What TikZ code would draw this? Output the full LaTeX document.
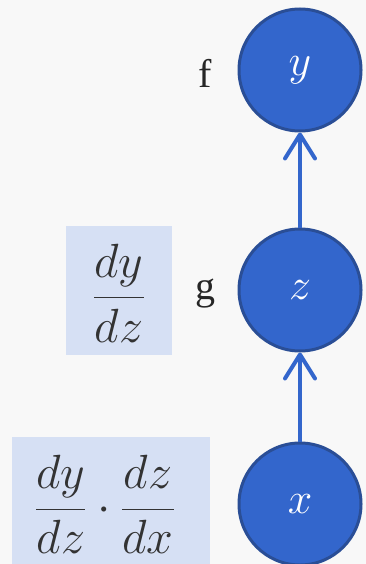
\RequirePackage{fix-cm}
\documentclass[tikz,border=0pt]{standalone}
\usepackage{amsmath}
\usepackage{fontspec}
\setmainfont{Liberation Serif}
\usetikzlibrary{arrows.meta, positioning}
\definecolor{nodefill}{RGB}{51,102,204}
\definecolor{nodeline}{RGB}{42,78,150}
\definecolor{gradbox}{RGB}{214,224,244}
\definecolor{canvas}{RGB}{248,248,248}

\begin{document}
\begin{tikzpicture}[
    x=1pt, y=-1pt,
    var/.style={circle, fill=nodefill, draw=nodeline, line width=3pt, minimum size=122pt, inner sep=0pt, text=white, font=\fontsize{44}{50}\selectfont},
    conn/.style={-{Straight Barb[length=24pt, width=30pt, line width=4pt, round]}, line width=4pt, nodefill},
    fname/.style={font=\fontsize{40}{44}\selectfont, text=black!85},
    gradbox/.style={fill=gradbox, inner sep=0pt, font=\fontsize{48}{54}\selectfont, text=black!80}
  ]

  % Canvas
  \fill[canvas] (0,0) rectangle (366,564);
  \useasboundingbox (0,0) rectangle (366,564);

  % Variables
  \node[var] (y) at (300,70) {$y$};
  \node[var] (z) at (300,290) {$z$};
  \node[var] (x) at (300,504) {$x$};

  % Functions
  \node[fname] (f) at (205,73) {f};
  \node[fname] (g) at (205,294) {g};

  % Gradients
  \node[gradbox, minimum width=106pt, minimum height=129pt] (dydz) at (119,290.5)
    {\raisebox{-19pt}[0pt][0pt]{$\dfrac{dy}{dz}$}};
  \node[gradbox, minimum width=198pt, minimum height=140pt] (dydx) at (111,507)
    {\raisebox{-14pt}[0pt][0pt]{$\dfrac{dy}{dz}\cdot\dfrac{dz}{dx}$}\kern12pt};

  % Connectors
  \draw[conn] (z) -- (y);
  \draw[conn] (x) -- (z);

\end{tikzpicture}
\end{document}
